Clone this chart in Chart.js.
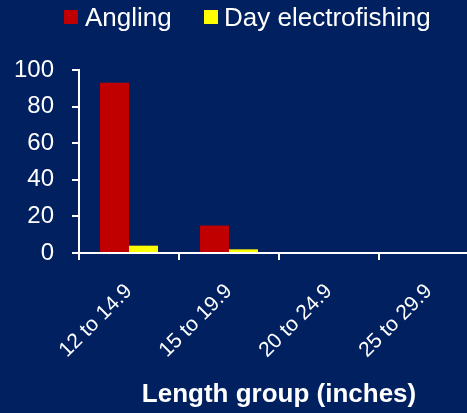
<!DOCTYPE html>
<html><head><meta charset="utf-8">
<script src="https://cdn.jsdelivr.net/npm/chart.js@4"></script>
<style>
html,body{margin:0;padding:0;background:#002060;overflow:hidden;width:467px;height:413px}
#wrap{position:relative;width:500px;height:413px}
</style></head>
<body><div id="wrap"><canvas id="c" width="500" height="413"></canvas></div>
<script>
const categories = ['12 to 14.9', '15 to 19.9', '20 to 24.9', '25 to 29.9'];
const seriesNames = ['Angling', 'Day electrofishing'];
const angling = [93, 15, 0, 0];
const dayElectrofishing = [4, 2, 0, 0];
const yTickValues = [0, 20, 40, 60, 80, 100];
const xTitle = 'Length group (inches)';

const legendPlugin = {
  id: 'customLegend',
  afterDraw(chart) {
    const ctx = chart.ctx;
    const pos = [{bx: 64, tx: 85}, {bx: 204, tx: 224}];
    ctx.save();
    ctx.font = '26px Arial, "Liberation Sans", sans-serif';
    ctx.textBaseline = 'alphabetic';
    chart.data.datasets.forEach((ds, i) => {
      ctx.fillStyle = ds.backgroundColor;
      ctx.fillRect(pos[i].bx, 10, 14, 14);
      ctx.fillStyle = '#ffffff';
      ctx.fillText(ds.label, pos[i].tx, 26);
    });
    ctx.restore();
  }
};

new Chart(document.getElementById('c'), {
  type: 'bar',
  data: {
    labels: categories,
    datasets: [
      {label: seriesNames[0], data: angling, backgroundColor: '#C00000', borderWidth: 0},
      {label: seriesNames[1], data: dayElectrofishing, backgroundColor: '#FFFF00', borderWidth: 0}
    ]
  },
  options: {
    responsive: false,
    animation: false,
    layout: {padding: {top: 70, right: 21, left: 0, bottom: 0}},
    datasets: {bar: {categoryPercentage: 0.58, barPercentage: 1.0}},
    plugins: {legend: {display: false}, tooltip: {enabled: false}},
    scales: {
      x: {
        afterFit: s => { s.height = 160; },
        grid: {display: true, drawOnChartArea: false, color: '#ffffff', lineWidth: 2, tickLength: 7, offset: true},
        border: {color: '#ffffff', width: 2},
        ticks: {color: '#ffffff', font: {family: 'Arial, "Liberation Sans", sans-serif', size: 21}, minRotation: 45, maxRotation: 45, padding: 19},
        title: {display: true, text: xTitle, color: '#ffffff', font: {family: 'Arial, "Liberation Sans", sans-serif', size: 26, weight: 'bold'}, padding: {top: 0, bottom: 3}}
      },
      y: {
        min: 0, max: 100,
        afterFit: s => { s.width = 79; },
        afterBuildTicks: s => { s.ticks = yTickValues.map(v => ({value: v})); },
        grid: {display: true, drawOnChartArea: false, color: '#ffffff', lineWidth: 2, tickLength: 7},
        border: {color: '#ffffff', width: 2},
        ticks: {color: '#ffffff', font: {family: 'Arial, "Liberation Sans", sans-serif', size: 24}, padding: 18}
      }
    }
  },
  plugins: [legendPlugin]
});
</script>
</body></html>
